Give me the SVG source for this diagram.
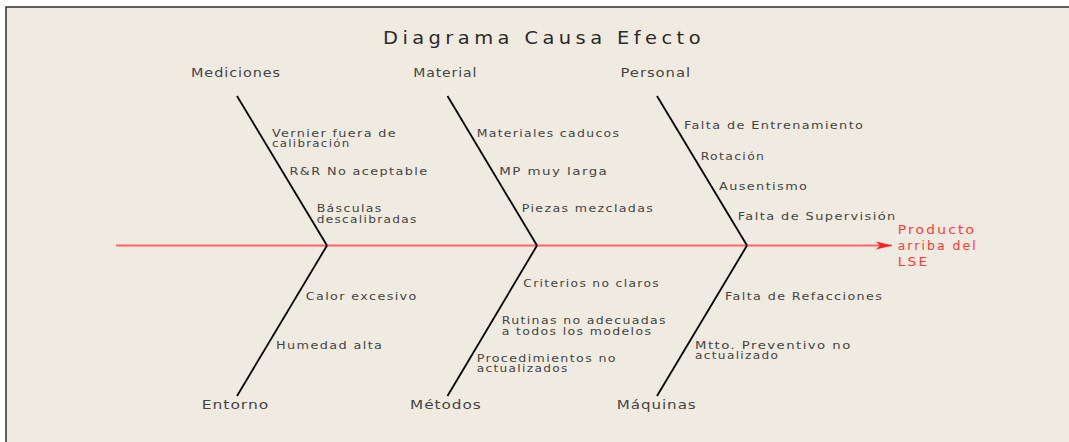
<svg xmlns="http://www.w3.org/2000/svg" width="1069" height="442" viewBox="0 0 1069 442">
<defs>
<marker id="arrow" markerUnits="userSpaceOnUse" viewBox="0 0 16 10" refX="16" refY="5" markerWidth="16" markerHeight="10" orient="auto">
<path d="M0,1 L16,5 L0,9 L4,5 Z" fill="#FF1E1E"/>
</marker>
<style>
text{font-family:"DejaVu Sans","Liberation Sans",sans-serif;fill:#444444;}
.title{font-size:17.5px;fill:#2a2a2a;letter-spacing:4px;}
.cat{font-size:12.5px;letter-spacing:0.8px;}
.cause{font-size:11px;letter-spacing:1.2px;}
.effect{font-size:12.5px;fill:#FF3838;letter-spacing:2px;}
.bone{stroke:#000000;stroke-width:1.8;fill:none;}
.spine{stroke:#FF6464;stroke-width:2.2;fill:none;}
</style>
</defs>
<rect x="0" y="0" width="1069" height="442" fill="#FFFFFF"/>
<rect x="6" y="7" width="1080" height="450" fill="#F0EBE1" stroke="#3a3a3a" stroke-width="1.6"/>
<text class="title" x="383" y="43.5" textLength="322" lengthAdjust="spacingAndGlyphs">Diagrama Causa Efecto</text>

<g id="connectors">
<line class="spine" x1="116" y1="245.5" x2="892" y2="245.5" marker-end="url(#arrow)"/>
<line class="bone" x1="237" y1="96" x2="327" y2="245.5"/>
<line class="bone" x1="447.5" y1="96" x2="537" y2="245.5"/>
<line class="bone" x1="657" y1="96" x2="747" y2="245.5"/>
<line class="bone" x1="327" y1="245.5" x2="237" y2="396"/>
<line class="bone" x1="537" y1="245.5" x2="447.5" y2="396"/>
<line class="bone" x1="747" y1="245.5" x2="657" y2="396"/>
</g>

<g id="mediciones">
<text class="cat" x="191" y="77.3" textLength="90" lengthAdjust="spacingAndGlyphs">Mediciones</text>
<text class="cause" x="272" y="136.7" textLength="125" lengthAdjust="spacingAndGlyphs">Vernier fuera de</text>
<text class="cause" x="272" y="147.3" textLength="78.5" lengthAdjust="spacingAndGlyphs">calibración</text>
<text class="cause" x="289.5" y="175" textLength="139" lengthAdjust="spacingAndGlyphs">R&amp;R No aceptable</text>
<text class="cause" x="316.7" y="211.7" textLength="66" lengthAdjust="spacingAndGlyphs">Básculas</text>
<text class="cause" x="316.7" y="222.7" textLength="101" lengthAdjust="spacingAndGlyphs">descalibradas</text>
</g>

<g id="material">
<text class="cat" x="413.3" y="77.3" textLength="64" lengthAdjust="spacingAndGlyphs">Material</text>
<text class="cause" x="476.7" y="136.7" textLength="143.6" lengthAdjust="spacingAndGlyphs">Materiales caducos</text>
<text class="cause" x="499.3" y="175" textLength="109" lengthAdjust="spacingAndGlyphs">MP muy larga</text>
<text class="cause" x="521.7" y="211.7" textLength="132.6" lengthAdjust="spacingAndGlyphs">Piezas mezcladas</text>
</g>

<g id="personal">
<text class="cat" x="620.5" y="77.3" textLength="70.5" lengthAdjust="spacingAndGlyphs">Personal</text>
<text class="cause" x="684" y="129.3" textLength="180.3" lengthAdjust="spacingAndGlyphs">Falta de Entrenamiento</text>
<text class="cause" x="700.7" y="160" textLength="64.6" lengthAdjust="spacingAndGlyphs">Rotación</text>
<text class="cause" x="719" y="190" textLength="89.3" lengthAdjust="spacingAndGlyphs">Ausentismo</text>
<text class="cause" x="737.7" y="220" textLength="159" lengthAdjust="spacingAndGlyphs">Falta de Supervisión</text>
</g>

<g id="efecto">
<text class="effect" x="897.7" y="234" textLength="78.6" lengthAdjust="spacingAndGlyphs">Producto</text>
<text class="effect" x="897.7" y="250" textLength="80" lengthAdjust="spacingAndGlyphs">arriba del</text>
<text class="effect" x="897.7" y="266" textLength="31.6" lengthAdjust="spacingAndGlyphs">LSE</text>
</g>

<g id="entorno">
<text class="cat" x="201.7" y="409" textLength="67.6" lengthAdjust="spacingAndGlyphs">Entorno</text>
<text class="cause" x="305.7" y="300" textLength="112" lengthAdjust="spacingAndGlyphs">Calor excesivo</text>
<text class="cause" x="276" y="349" textLength="107.3" lengthAdjust="spacingAndGlyphs">Humedad alta</text>
</g>

<g id="metodos">
<text class="cat" x="410" y="409" textLength="71.7" lengthAdjust="spacingAndGlyphs">Métodos</text>
<text class="cause" x="523.3" y="287.3" textLength="136.7" lengthAdjust="spacingAndGlyphs">Criterios no claros</text>
<text class="cause" x="501.7" y="324.3" textLength="165.3" lengthAdjust="spacingAndGlyphs">Rutinas no adecuadas</text>
<text class="cause" x="501.7" y="335" textLength="150.6" lengthAdjust="spacingAndGlyphs">a todos los modelos</text>
<text class="cause" x="476.7" y="362.3" textLength="140.3" lengthAdjust="spacingAndGlyphs">Procedimientos no</text>
<text class="cause" x="476.7" y="372.3" textLength="92" lengthAdjust="spacingAndGlyphs">actualizados</text>
</g>

<g id="maquinas">
<text class="cat" x="616.7" y="409" textLength="80" lengthAdjust="spacingAndGlyphs">Máquinas</text>
<text class="cause" x="725" y="300" textLength="158.3" lengthAdjust="spacingAndGlyphs">Falta de Refacciones</text>
<text class="cause" x="695" y="349" textLength="156.7" lengthAdjust="spacingAndGlyphs">Mtto. Preventivo no</text>
<text class="cause" x="695" y="359" textLength="84.3" lengthAdjust="spacingAndGlyphs">actualizado</text>
</g>
</svg>
